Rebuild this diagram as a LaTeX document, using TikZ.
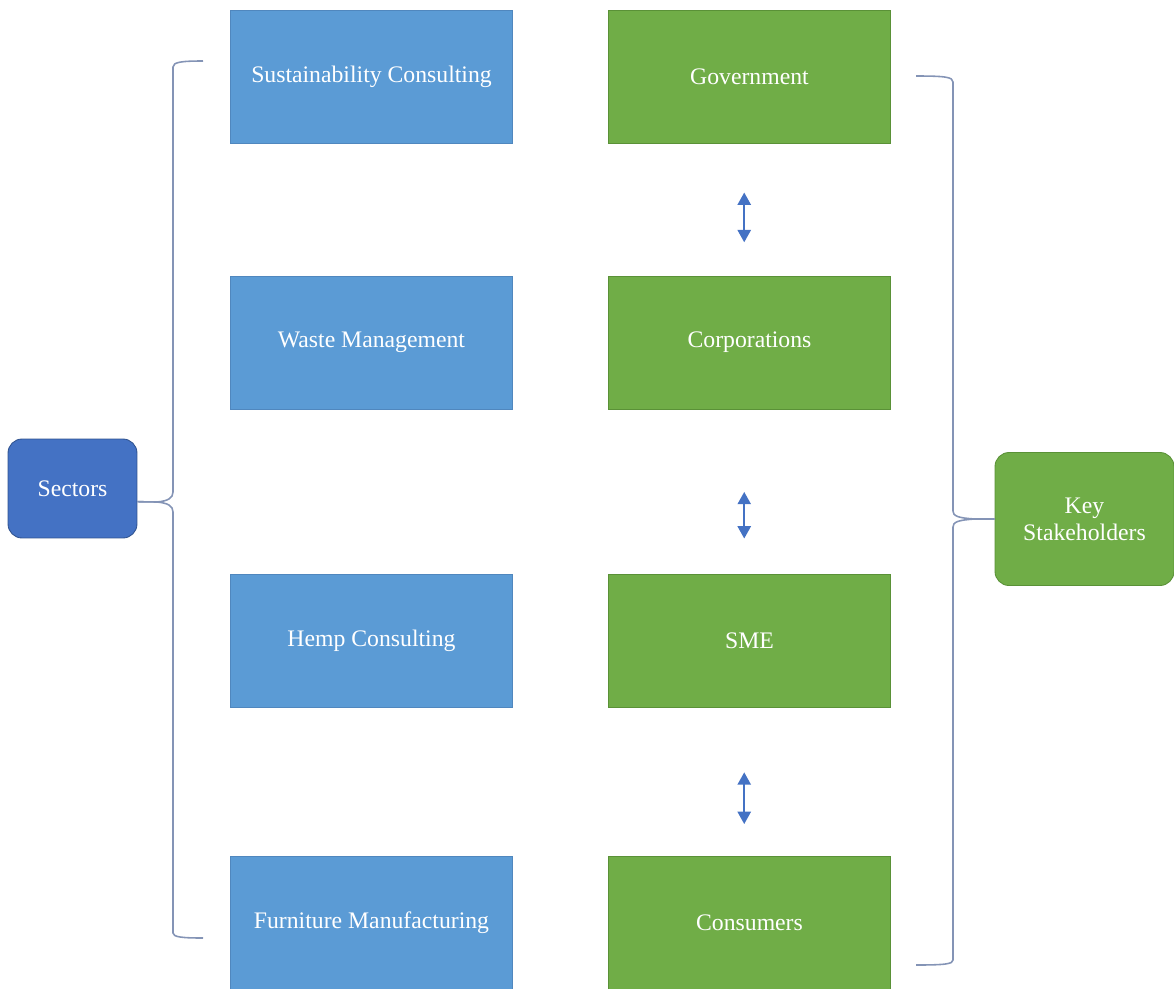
\documentclass[tikz,border=0pt]{standalone}
\usepackage{fontspec}
\setmainfont{Liberation Serif}
\usepackage{tikz}
\usetikzlibrary{arrows.meta,positioning,calc}
\usepackage{xcolor}
\definecolor{sectorblue}{RGB}{91,155,213}
\definecolor{sectoredge}{RGB}{80,135,190}
\definecolor{headblue}{RGB}{68,114,196}
\definecolor{headedge}{RGB}{47,82,143}
\definecolor{holdergreen}{RGB}{112,173,71}
\definecolor{holderedge}{RGB}{90,145,55}
\definecolor{bracegray}{RGB}{132,148,182}

\begin{document}
\begin{tikzpicture}[x=0.02cm,y=-0.02cm,
    font=\fontsize{13.5}{15.5}\selectfont,
    sectorbox/.style={rectangle,fill=sectorblue,draw=sectoredge,line width=0.4pt,text=white,minimum width=5.64cm,minimum height=2.66cm},
    holderbox/.style={rectangle,fill=holdergreen,draw=holderedge,line width=0.4pt,text=white,minimum width=5.64cm,minimum height=2.66cm},
    headbox/.style={rectangle,rounded corners=8pt,draw,line width=0.5pt,text=white,align=center},
    bracepath/.style={draw=bracegray,line width=0.9pt},
    updown/.style={draw=headblue,line width=1.1pt,{Triangle[width=7.5pt,length=7pt]}-{Triangle[width=7.5pt,length=7pt]},transform canvas={xshift=-3pt}}]
        \useasboundingbox (0,0) rectangle (1174,988);

        % Sectors (left column)
        \node[sectorbox] (sust) at (371.5,76.5) {Sustainability Consulting};
        \node[sectorbox] (waste) at (371.5,342.5) {Waste Management};
        \node[sectorbox] (hemp) at (371.5,640.5) {Hemp Consulting};
        \node[sectorbox] (furn) at (371.5,922.5) {Furniture Manufacturing};

        % Stakeholders (right column)
        \node[holderbox] (gov) at (749.5,76.5) {Government};
        \node[holderbox] (corp) at (749.5,342.5) {Corporations};
        \node[holderbox] (sme) at (749.5,640.5) {SME};
        \node[holderbox] (cons) at (749.5,922.5) {Consumers};

        % Headings
        \node[headbox,fill=headblue,draw=headedge,minimum width=2.58cm,minimum height=1.98cm] (sec) at (72.5,488.5) {Sectors};
        \node[headbox,fill=holdergreen,draw=holderedge,minimum width=3.58cm,minimum height=2.66cm] (key) at (1084.5,519) {Key\\Stakeholders};

        % Arrows between stakeholders
        \draw[updown,shorten <=28pt,shorten >=19pt] (gov.south) -- (corp.north);
        \draw[updown,shorten <=47pt,shorten >=20pt] (corp.south) -- (sme.north);
        \draw[updown,shorten <=37pt,shorten >=18pt] (sme.south) -- (cons.north);

        % Left brace
        \coordinate (ltip) at ([yshift=-7.5pt]sec.east);
        \draw[bracepath] (203,61) .. controls (182,61) and (173,62) .. (173,67) -- (173,492)
            .. controls (173,498) and (168,501) .. (157,502) -- (ltip);
        \draw[bracepath] (ltip) -- (157,502) .. controls (168,503) and (173,506) .. (173,512)
            -- (173,933) .. controls (173,937) and (182,938) .. (203,938);

        % Right brace
        \draw[bracepath] (916,76) .. controls (945,76) and (953,77) .. (953,82) -- (953,511)
            .. controls (953,516) and (958,518) .. (975,519) -- (key.west);
        \draw[bracepath] (key.west) -- (975,519) .. controls (958,520) and (953,522) .. (953,527)
            -- (953,960) .. controls (953,964) and (945,965) .. (916,965);
    \end{tikzpicture}
\end{document}
